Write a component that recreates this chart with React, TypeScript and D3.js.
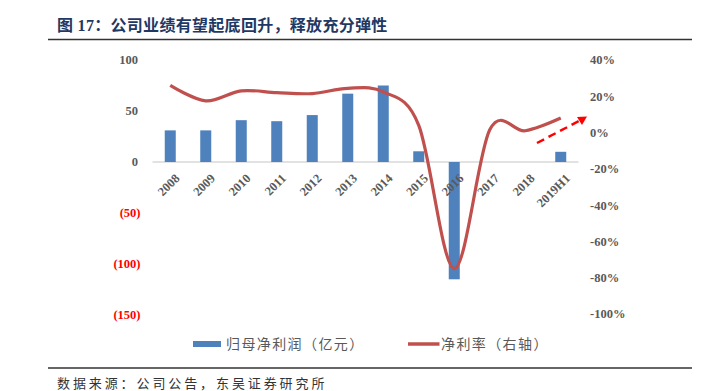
import React from "react";
import * as d3 from "d3";

const categories = ["2008","2009","2010","2011","2012","2013","2014","2015","2016","2017","2018","2019H1"];
const profit = [31, 31, 41, 40, 46, 67, 75, 10.5, -115, 0, 0, 10];
const margin = [26, 17.5, 23, 22, 21.5, 24.4, 22.5, 4, -75, 1.5, 1, 8];
const leftTicks = [100, 50, 0, -50, -100, -150];
const rightTicks = [40, 20, 0, -20, -40, -60, -80, -100];

const W = 724, H = 391;
const plotL = 152.5, plotR = 578.5, plotT = 60, plotB = 315;

export default function App() {
  const x = d3.scaleBand<string>().domain(categories).range([plotL, plotR]).paddingInner(0.69).paddingOuter(0.345);
  const yL = d3.scaleLinear().domain([-150, 100]).range([plotB, plotT]);
  const yR = d3.scaleLinear().domain([-100, 40]).range([plotB - 1, plotT]);
  const cx = (c: string) => (x(c) as number) + x.bandwidth() / 2;
  const line = d3.line<number>().x((_, i) => cx(categories[i])).y(d => yR(d)).curve(d3.curveCardinal.tension(0));
  const serif = "'Liberation Serif', 'Times New Roman', serif";
  const cjk = "'Noto Sans CJK SC', sans-serif";
  const fmtL = (v: number) => (v < 0 ? `(${-v})` : `${v}`);
  return (
    <svg width={W} height={H} style={{ position: "absolute", left: 0, top: 0, background: "#fff" }}>
      <text x={57} y={31} fontFamily={`${serif}, ${cjk}`} fontWeight="bold" fontSize={16} fill="#1F3864" letterSpacing={0.3}>
        图 17：公司业绩有望起底回升，释放充分弹性
      </text>
      <line x1={48} x2={692} y1={39.5} y2={39.5} stroke="#333" strokeWidth={1.6} />
      <line x1={plotL} x2={plotR} y1={yL(0)} y2={yL(0)} stroke="#d9d9d9" strokeWidth={1.5} />
      {profit.map((v, i) => (
        <rect key={i} x={x(categories[i])} width={x.bandwidth()} y={Math.min(yL(v), yL(0))} height={Math.abs(yL(v) - yL(0))} fill="#4F81BD" />
      ))}
      <path d={line(margin) || ""} fill="none" stroke="#C0504D" strokeWidth={3.2} />
      {leftTicks.map(t => (
        <text key={t} x={t < 0 ? 140.5 : 138} y={yL(t)} dy="0.35em" textAnchor="end" fontFamily={serif} fontWeight="bold" fontSize={12.5} fill={t < 0 ? "#FF0000" : "#595959"}>
          {fmtL(t)}
        </text>
      ))}
      {rightTicks.map(t => (
        <text key={t} x={590} y={yR(t)} dy="0.35em" fontFamily={serif} fontWeight="bold" fontSize={12.5} fill="#595959">
          {`${t}%`}
        </text>
      ))}
      {categories.map(c => (
        <text key={c} transform={`translate(${cx(c) + 7},${yL(0) + 14}) rotate(-45)`} textAnchor="end" dy="0.35em" fontFamily={serif} fontWeight="bold" fontSize={12.5} fill="#595959">
          {c}
        </text>
      ))}
      <line x1={537} y1={143} x2={580} y2={120.5} stroke="#FF0000" strokeWidth={2.5} strokeDasharray="8,5" />
      <polygon points="587,116.5 577,117 582,125" fill="#FF0000" />
      <rect x={193} y={341} width={28} height={6} fill="#4F81BD" />
      <text x={226} y={344} dy="0.35em" fontFamily={cjk} fontSize={14} fill="#595959" letterSpacing={1.4}>归母净利润（亿元）</text>
      <line x1={408} x2={439.5} y1={344} y2={344} stroke="#C0504D" strokeWidth={3.5} />
      <text x={441} y={344} dy="0.35em" fontFamily={cjk} fontSize={14} fill="#595959" letterSpacing={1.4}>净利率（右轴）</text>
      <line x1={48} x2={692} y1={368} y2={368} stroke="#333" strokeWidth={1.6} />
      <text x={57} y={383} dy="0.35em" fontFamily={cjk} fontSize={13} fill="#333" letterSpacing={2.9}>数据来源：公司公告，东吴证券研究所</text>
    </svg>
  );
}
